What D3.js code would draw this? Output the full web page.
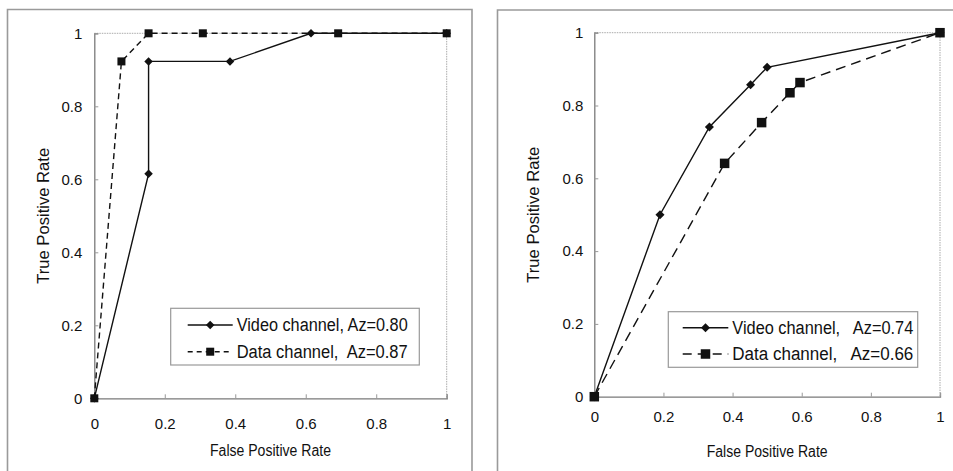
<!DOCTYPE html>
<html>
<head>
<meta charset="utf-8">
<script src="https://cdn.jsdelivr.net/npm/d3@7"></script>
<style>
  body { margin: 0; background: #fff; }
  svg { display: block; font-family: "Liberation Sans", Arial, sans-serif; }
  text { fill: #111; white-space: pre; }
</style>
</head>
<body>
<svg id="chart"></svg>
<script>
// shared axis ticks
const rateTicks = [0, 0.2, 0.4, 0.6, 0.8, 1];
const rateTickLabels = ['0', '0.2', '0.4', '0.6', '0.8', '1'];

// left panel (ROC, first experiment)
const leftVideoFpr = [0, 0.154, 0.154, 0.385, 0.615, 1];
const leftVideoTpr = [0, 0.615, 0.923, 0.923, 1, 1];
const leftDataFpr = [0, 0.077, 0.154, 0.308, 0.692, 1];
const leftDataTpr = [0, 0.923, 1, 1, 1, 1];
const leftLegend = ['Video channel, Az=0.80', 'Data channel,  Az=0.87'];

// right panel (ROC, second experiment)
const rightVideoFpr = [0, 0.19, 0.333, 0.452, 0.5, 1];
const rightVideoTpr = [0, 0.5, 0.741, 0.857, 0.905, 1];
const rightDataFpr = [0, 0.377, 0.484, 0.566, 0.595, 1];
const rightDataTpr = [0, 0.641, 0.753, 0.835, 0.863, 1];
const rightLegend = ['Video channel,   Az=0.74', 'Data channel,   Az=0.66'];

const xTitle = 'False Positive Rate';
const yTitle = 'True Positive Rate';

const zip = (xs, ys) => xs.map((x, i) => ({x: x, y: ys[i]}));

class RocPanel {
  constructor(_config) {
    this.config = _config;
    this.initVis();
  }

  initVis() {
    let vis = this;
    const c = vis.config;

    vis.g = d3.select('#chart').append('g');

    // panel frame (bottom runs past the picture)
    vis.g.append('path')
        .attr('d', `M${c.frame[0]},${c.frame[3]}V${c.frame[1]}H${c.frame[2]}V${c.frame[3]}`)
        .attr('fill', 'none')
        .attr('stroke', '#9a9a9a')
        .attr('stroke-width', 1.6);

    vis.xScale = d3.scaleLinear().domain([0, 1]).range([c.plot.left, c.plot.right]);
    vis.yScale = d3.scaleLinear().domain([0, 1]).range([c.plot.bottom, c.plot.top]);

    // top and right border of the plot area: light dotted
    vis.g.append('path')
        .attr('d', `M${c.plot.left},${c.plot.top}H${c.plot.right}V${c.plot.bottom}`)
        .attr('fill', 'none')
        .attr('stroke', '#aaa')
        .attr('stroke-width', 1)
        .attr('stroke-dasharray', '1.5,1');

    vis.xAxis = d3.axisBottom(vis.xScale)
        .tickValues(rateTicks)
        .tickSize(-4)
        .tickPadding(0)
        .tickFormat((d, i) => rateTickLabels[i]);

    vis.yAxis = d3.axisLeft(vis.yScale)
        .tickValues(rateTicks)
        .tickSize(-4)
        .tickPadding(0)
        .tickFormat((d, i) => rateTickLabels[i]);

    vis.xAxisG = vis.g.append('g')
        .attr('transform', `translate(0,${c.plot.bottom})`)
        .call(vis.xAxis);
    vis.xAxisG.selectAll('text')
        .attr('y', c.xTickDy)
        .attr('dy', 0)
        .style('font-size', '15px');

    vis.yAxisG = vis.g.append('g')
        .attr('transform', `translate(${c.plot.left},0)`)
        .call(vis.yAxis);
    vis.yAxisG.selectAll('text')
        .attr('x', -c.yTickDx)
        .style('font-size', '15px');

    [vis.xAxisG, vis.yAxisG].forEach(a => {
      a.attr('font-family', null).attr('font-size', null);
      a.select('.domain').attr('stroke', '#7a7a7a').attr('stroke-width', 1.3);
      a.selectAll('.tick line').attr('stroke', '#999');
    });

    // axis titles
    vis.g.append('text')
        .attr('x', (c.plot.left + c.plot.right) / 2)
        .attr('y', c.xTitleY)
        .attr('text-anchor', 'middle')
        .attr('textLength', 121)
        .attr('lengthAdjust', 'spacingAndGlyphs')
        .style('font-size', '16px')
        .text(xTitle);

    vis.g.append('text')
        .attr('transform', `translate(${c.yTitleX},${(c.plot.top + c.plot.bottom) / 2}) rotate(-90)`)
        .attr('text-anchor', 'middle')
        .attr('dy', '0.35em')
        .attr('textLength', 136)
        .attr('lengthAdjust', 'spacingAndGlyphs')
        .style('font-size', '17px')
        .text(yTitle);

    vis.line = d3.line().x(d => vis.xScale(d.x)).y(d => vis.yScale(d.y));
    vis.diamond = d3.symbol().type(d3.symbolDiamond2).size(c.diamondSize);

    vis.updateVis();
  }

  updateVis() {
    let vis = this;
    const c = vis.config;
    const video = zip(c.videoFpr, c.videoTpr);
    const data = zip(c.dataFpr, c.dataTpr);

    // video channel: solid with diamonds
    vis.g.append('path')
        .datum(video)
        .attr('d', vis.line)
        .attr('fill', 'none')
        .attr('stroke', '#111')
        .attr('stroke-width', 1.4);

    // data channel: dashed with squares
    vis.g.append('path')
        .datum(data)
        .attr('d', vis.line)
        .attr('fill', 'none')
        .attr('stroke', '#111')
        .attr('stroke-width', 1.4)
        .attr('stroke-dasharray', c.dash);

    vis.g.selectAll('.diamond')
        .data(video)
      .join('path')
        .attr('class', 'diamond')
        .attr('transform', d => `translate(${vis.xScale(d.x)},${vis.yScale(d.y)})`)
        .attr('d', vis.diamond)
        .attr('fill', '#111');

    vis.g.selectAll('.square')
        .data(data)
      .join('rect')
        .attr('class', 'square')
        .attr('x', d => vis.xScale(d.x) - c.square / 2)
        .attr('y', d => vis.yScale(d.y) - c.square / 2)
        .attr('width', c.square)
        .attr('height', c.square)
        .attr('fill', '#111');

    // legend
    const lg = c.legend;
    const legendG = vis.g.append('g');
    legendG.append('rect')
        .attr('x', lg.x).attr('y', lg.y)
        .attr('width', lg.w).attr('height', lg.h)
        .attr('fill', '#fff')
        .attr('stroke', '#999')
        .attr('stroke-width', 1.2);

    c.legendLabels.forEach((label, i) => {
      const ly = lg.y + lg.row0 + i * lg.rowGap;
      const lx0 = lg.x + lg.lineX0;
      const lx1 = lx0 + lg.lineW;
      const mx = (lx0 + lx1) / 2;
      legendG.append('line')
          .attr('x1', lx0).attr('x2', lx1)
          .attr('y1', ly).attr('y2', ly)
          .attr('stroke', '#111')
          .attr('stroke-width', 1.4)
          .attr('stroke-dasharray', i === 0 ? null : lg.dash);
      if (i === 0) {
        legendG.append('path')
            .attr('transform', `translate(${mx},${ly})`)
            .attr('d', vis.diamond)
            .attr('fill', '#111');
      } else {
        legendG.append('rect')
            .attr('x', mx - c.square / 2).attr('y', ly - c.square / 2)
            .attr('width', c.square).attr('height', c.square)
            .attr('fill', '#111');
      }
      legendG.append('text')
          .attr('x', lx1 + 4)
          .attr('y', ly)
          .attr('dy', '0.36em')
          .attr('textLength', lg.textW)
          .attr('lengthAdjust', 'spacingAndGlyphs')
          .style('font-size', '18px')
          .text(label);
    });
  }
}

d3.select('#chart').attr('width', 953).attr('height', 471);

new RocPanel({
  frame: [7.5, 9.5, 472, 480],
  plot: {left: 94.3, right: 446.7, top: 33.3, bottom: 398.3},
  xTickDy: 31, yTickDx: 12, xTitleY: 456, yTitleX: 43,
  videoFpr: leftVideoFpr, videoTpr: leftVideoTpr,
  dataFpr: leftDataFpr, dataTpr: leftDataTpr,
  legendLabels: leftLegend,
  dash: '6,4', square: 8, diamondSize: 46,
  legend: {x: 170.7, y: 308.3, w: 248.6, h: 56.7, row0: 16.7, rowGap: 26.7, lineX0: 17, lineW: 45, dash: '5,4', textW: 171}
});

new RocPanel({
  frame: [497.5, 10, 960, 480],
  plot: {left: 594.3, right: 940, top: 32.7, bottom: 396.7},
  xTickDy: 25, yTickDx: 11, xTitleY: 457, yTitleX: 533,
  videoFpr: rightVideoFpr, videoTpr: rightVideoTpr,
  dataFpr: rightDataFpr, dataTpr: rightDataTpr,
  legendLabels: rightLegend,
  dash: '10,6', square: 9.5, diamondSize: 52,
  legend: {x: 668.3, y: 311.7, w: 249.4, h: 55.6, row0: 16, rowGap: 26.3, lineX0: 14.4, lineW: 45.6, dash: '9,6', textW: 181}
});
</script>
</body>
</html>
